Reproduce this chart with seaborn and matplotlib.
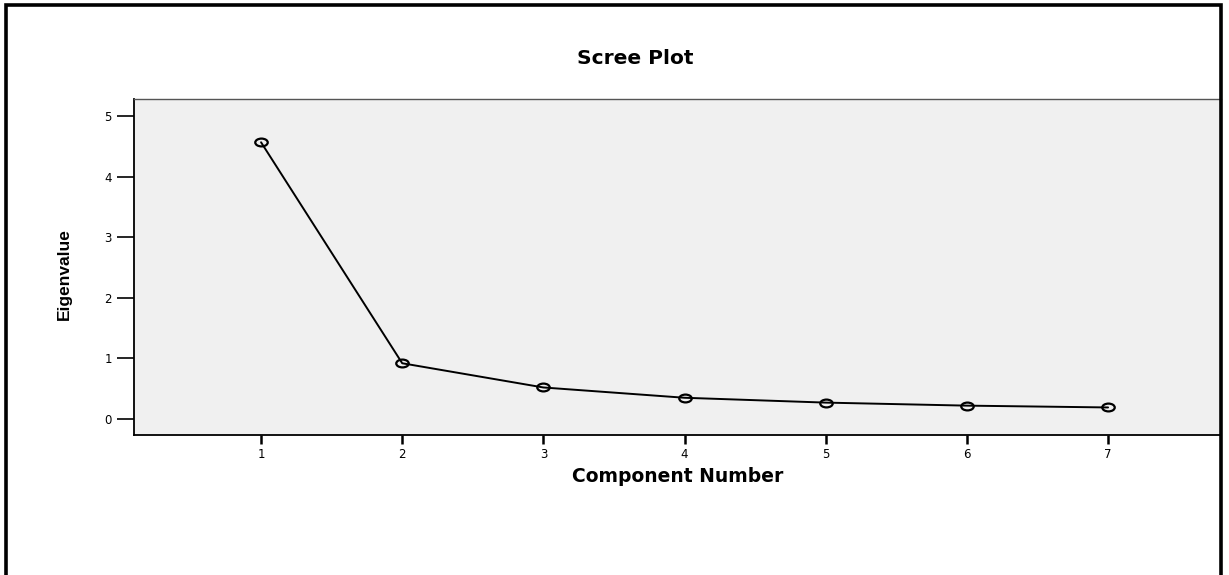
import numpy as np
import pandas as pd
import seaborn as sns
import matplotlib.pyplot as plt
from matplotlib.path import Path
from matplotlib.transforms import Affine2D
from matplotlib.lines import Line2D

# values
components = [1, 2, 3, 4, 5, 6, 7]
eigenvalues = [4.57, 0.92, 0.52, 0.35, 0.27, 0.22, 0.19]
y_ticks = [0, 1, 2, 3, 4, 5]

df = pd.DataFrame({'Component Number': components, 'Eigenvalue': eigenvalues})

sns.set_theme(style='ticks')
plt.rcParams['font.family'] = ['DejaVu Sans']
plt.rcParams['text.color'] = 'black'
plt.rcParams['axes.labelcolor'] = 'black'
plt.rcParams['xtick.color'] = 'black'
plt.rcParams['ytick.color'] = 'black'

W, H = 1229, 575
fig = plt.figure(figsize=(W / 100, H / 100), dpi=100)
ax = fig.add_axes([134 / W, 1 - 435.3 / H, (1221 - 134) / W, (435.3 - 99.3) / H])
ax.set_facecolor('#f0f0f0')

# open oval markers like the original SPSS output
oval = Affine2D().scale(1.6, 1).transform_path(Path.unit_circle())
sns.lineplot(data=df, x='Component Number', y='Eigenvalue', ax=ax, color='black',
             linewidth=1.4, marker=oval, markersize=9, markerfacecolor='none',
             markeredgecolor='black', markeredgewidth=1.6)

ax.set_xlim(0.1, 7.8)
ax.set_ylim(-0.27, 5.28)
ax.set_xticks(components)
ax.set_yticks(y_ticks)
ax.tick_params(axis='y', length=12.5, width=1.2, pad=3.5, labelsize=8.5)
ax.tick_params(axis='x', length=6.5, width=1.8, pad=3, labelsize=8.5)

for side in ['left', 'bottom']:
    ax.spines[side].set_color('black')
    ax.spines[side].set_linewidth(1.3)
ax.spines['top'].set_color('#555555')
ax.spines['top'].set_linewidth(1.0)
ax.spines['right'].set_visible(False)

ax.set_title('Scree Plot', fontsize=14.5, fontweight='bold', x=(635 - 134) / (1221 - 134), pad=25.5)
ax.set_xlabel('Component Number', fontsize=13.5, fontweight='bold', labelpad=4)
ax.set_ylabel('Eigenvalue', fontsize=12.5, fontweight='bold', va='center',
              family=['Liberation Sans', 'DejaVu Sans'])
ax.yaxis.set_label_coords((64 - 134) / (1221 - 134), (435.3 - 274) / (435.3 - 99.3))

# frame around the figure (open at the bottom)
fig.add_artist(Line2D([6.5 / W, 6.5 / W, 1221 / W, 1221 / W],
                      [-0.01, 1 - 4.5 / H, 1 - 4.5 / H, -0.01],
                      transform=fig.transFigure, color='black', lw=2.6,
                      solid_joinstyle='miter'))

fig.savefig('out.png', dpi=100)
